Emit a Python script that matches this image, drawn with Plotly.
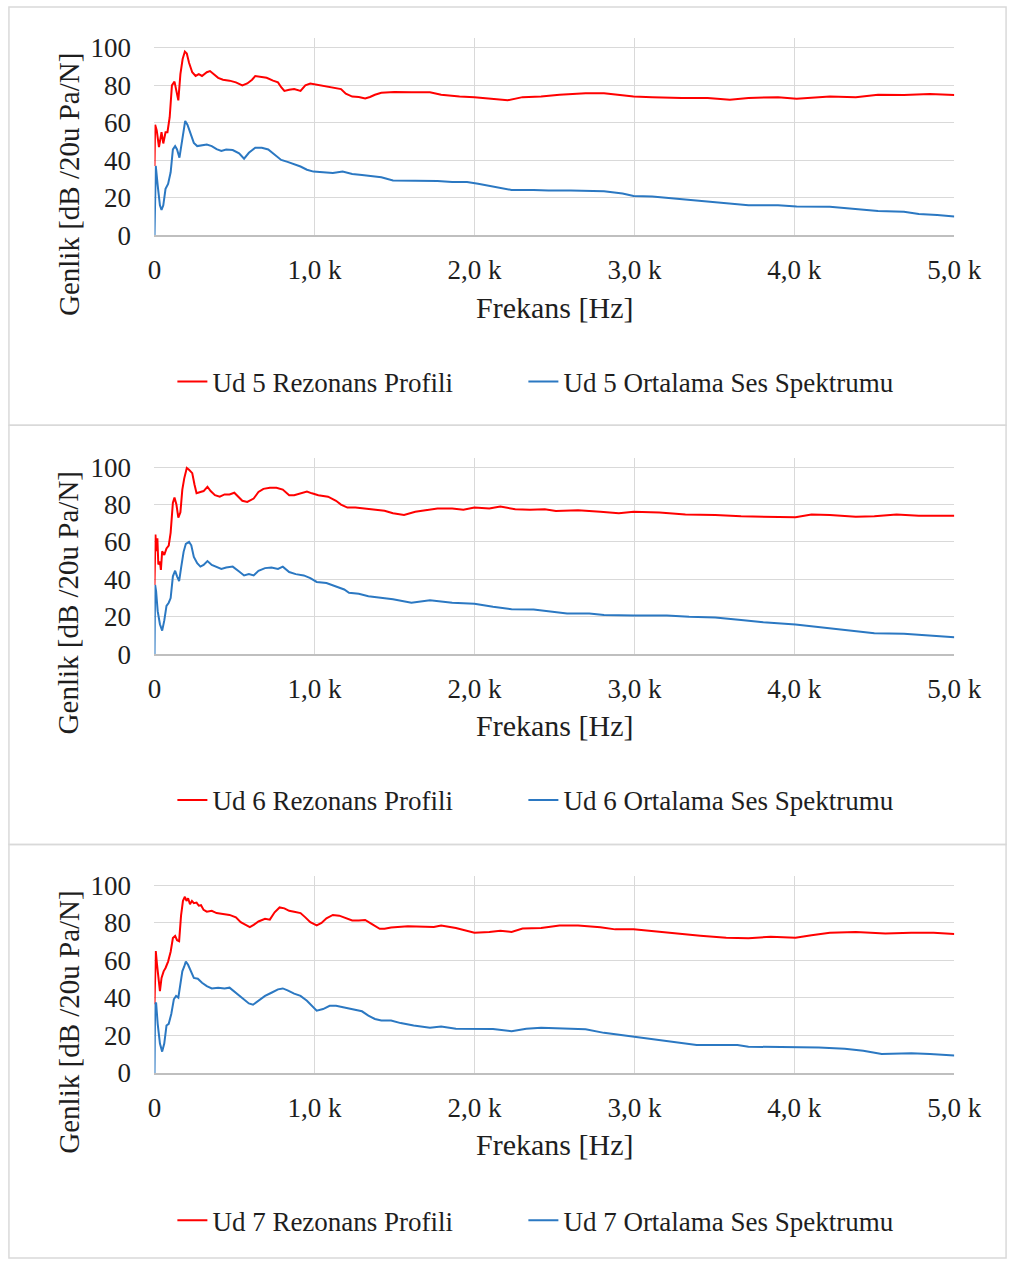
import plotly.graph_objects as go

# ---------------- data ----------------
x_tickvals = [0, 1000, 2000, 3000, 4000, 5000]
x_ticktext = ["0", "1,0 k", "2,0 k", "3,0 k", "4,0 k", "5,0 k"]
y_tickvals = [0, 20, 40, 60, 80, 100]
y_ticktext = ["0", "20", "40", "60", "80", "100"]

units = ["Ud 5", "Ud 6", "Ud 7"]

# Ud 5
ud5_red_f = [0, 4, 14, 28, 44, 55, 69, 81, 95, 109, 125, 137, 149, 162, 176, 190, 202, 216, 236, 257,
             277, 297, 327, 347, 368, 398, 428, 469, 509, 549, 580, 610, 630, 661, 701, 741, 772, 792, 812, 842,
             873, 913, 943, 974, 1014, 1054, 1115, 1166, 1196, 1236, 1277, 1317, 1347, 1378, 1418, 1499,
             1606, 1722, 1792, 1907, 2000, 2093, 2208, 2301, 2417, 2532, 2695, 2810, 2926, 2995, 3111, 3296,
             3458, 3597, 3713, 3898, 4014, 4107, 4222, 4384, 4523, 4685, 4847, 5000]
ud5_red = [37, 59, 56, 47, 55, 49, 55, 55, 63, 80, 82, 76, 72, 86, 94, 98, 97, 92, 87, 85,
           86, 85, 87, 87.6, 86, 84, 83, 82.5, 81.6, 80, 81, 83, 85, 84.6, 84, 82.5, 81.6, 79, 77, 77.6,
           78, 77, 80, 81, 80.4, 80, 79, 78, 75.5, 74, 73.8, 73, 73.8, 75, 76, 76.4,
           76.3, 76.3, 75, 74, 73.7, 72.8, 72, 73.7, 74, 75, 75.8, 75.8, 74.6, 74, 73.7, 73.2,
           73.3, 72.3, 73.3, 73.7, 72.8, 73.3, 74, 73.7, 75, 74.9, 75.4, 74.9]
ud5_blue_f = [0, 4, 8, 20, 34, 44, 55, 69, 85, 101, 115, 129, 141, 156, 166, 180, 192, 206, 226, 246,
              267, 297, 327, 358, 388, 418, 448, 489, 529, 560, 590, 630, 671, 711, 751, 792, 832, 873, 913, 953,
              994, 1054, 1115, 1176, 1236, 1297, 1357, 1418,
              1491, 1630, 1769, 1861, 1954, 2023, 2139, 2232, 2370, 2463, 2602, 2810, 2926, 2995, 3111, 3296,
              3528, 3713, 3898, 4014, 4222, 4384, 4523, 4685, 4778, 4893, 5000]
ud5_blue = [0, 33.6, 37, 26.6, 16, 13.5, 16, 24.8, 27.4, 33.6, 45.8, 47.6, 45.8, 41.4, 47.6, 56, 61, 59, 53.7, 49.3,
            47.6, 47.9, 48.4, 47.6, 46, 45, 45.8, 45.5, 43.7, 40.9, 44, 46.7, 46.7, 45.8, 43.2, 40.2, 39.2, 38, 36.7, 35,
            34, 33.6, 33.2, 34, 32.7, 32.2, 31.5, 31,
            29.3, 29, 29, 28.4, 28.4, 27.5, 25.8, 24.2, 24.2, 23.9, 23.9, 23.5, 22.3, 21, 20.7, 19.3,
            17.5, 16.1, 16.1, 15.4, 15.3, 13.9, 13, 12.6, 11.4, 10.9, 10]

# Ud 6
ud6_red_f = [0, 6, 12, 18, 24, 34, 40, 48, 61, 75, 89, 101, 115, 125, 137, 149, 162, 174, 186, 202,
             216, 236, 250, 263, 287, 307, 331, 351, 378, 408, 438, 469, 499, 529, 549, 580, 620, 650, 681, 721,
             762, 802, 842, 873, 913, 953, 984, 1024, 1085, 1135, 1166, 1206, 1256, 1317, 1378, 1438,
             1491, 1560, 1630, 1769, 1861, 1931, 2000, 2093, 2162, 2255, 2347, 2440, 2509, 2648, 2787, 2903,
             2995, 3157, 3319, 3505, 3667, 3806, 3898, 4007, 4107, 4222, 4384, 4500, 4639, 4778, 5000]
ud6_red = [37, 64, 55, 62, 48, 49.5, 45, 55, 53, 56.5, 58, 65, 81, 83.7, 80, 73, 75.8, 88, 94, 99.5,
           98.6, 96.8, 90.7, 86, 86.7, 87.2, 89.5, 87.2, 85, 84.2, 85.4, 85.4, 86.3, 83.7, 82, 81.4, 83.2, 86.7, 88.4, 89,
           89, 88, 85, 85, 86, 87, 86, 85, 84.2, 82, 80, 78.4, 78.4, 77.9, 77.2, 76.7,
           75.3, 74.4, 76.1, 77.9, 77.9, 77.2, 78.4, 77.9, 78.9, 77.5, 77.2, 77.5, 76.5, 77, 76.1, 75.4,
           76.1, 75.8, 74.7, 74.4, 73.7, 73.5, 73, 73.2, 74.7, 74.4, 73.5, 73.7, 74.7, 74, 74]
ud6_blue_f = [0, 4, 10, 20, 34, 48, 61, 75, 89, 101, 115, 129, 141, 154, 166, 182, 196, 216, 230, 246,
              267, 287, 307, 331, 358, 388, 418, 448, 489, 529, 560, 590, 620, 650, 691, 731, 772, 802, 842, 883,
              933, 974, 1014, 1075, 1135, 1186, 1216, 1277, 1337, 1418,
              1491, 1606, 1722, 1861, 2000, 2116, 2232, 2370, 2463, 2579, 2718, 2810, 2995, 3203, 3342, 3505,
              3667, 3806, 4007, 4153, 4315, 4500, 4685, 4847, 5000]
ud6_blue = [0, 37, 33.7, 23, 16, 12.6, 17.9, 25.8, 27.5, 30, 41.6, 44.6, 41.6, 39, 46, 54.7, 59, 60, 58.2, 52,
            48.6, 46.8, 47.7, 49.8, 47.7, 46.8, 45.6, 46.3, 46.8, 44.2, 42.1, 42.8, 42.1, 44.6, 46, 46.3, 45.6, 46.8, 43.9, 42.8,
            42.1, 40.7, 38.6, 38, 36.3, 34.6, 32.8, 32.3, 31, 30.2,
            29.3, 27.5, 28.8, 27.5, 27, 25.3, 24, 23.9, 22.8, 21.8, 21.8, 21, 20.7, 20.7, 20, 19.6,
            18.2, 17, 15.8, 14.4, 12.6, 11.2, 10.9, 10, 9.1]

# Ud 7
ud7_red_f = [0, 8, 16, 24, 34, 44, 57, 69, 85, 101, 115, 129, 141, 154, 166, 178, 190, 200, 210, 222,
             234, 246, 263, 277, 291, 307, 327, 358, 388, 428, 469, 509, 539, 570, 596, 620, 650, 691, 721, 751,
             782, 812, 842, 873, 913, 943, 974, 1014, 1044, 1075, 1115, 1155, 1196, 1236, 1277, 1317, 1357, 1408, 1438, 1479,
             1584, 1676, 1746, 1792, 1884, 2000, 2093, 2162, 2232, 2301, 2417, 2532, 2648, 2787, 2880, 2995,
             3111, 3250, 3412, 3574, 3713, 3852, 4007, 4107, 4222, 4384, 4569, 4731, 4870, 5000]
ud7_red = [36.7, 65, 57.7, 52.4, 43.7, 50.7, 54.2, 56, 59.4, 64.7, 72, 73.1, 70.8, 70.3, 83.9, 91.8, 94, 91.8, 93.2, 90,
           91.8, 90.6, 90.9, 89.2, 89.5, 87, 86, 86.5, 85.3, 84.8, 84.3, 83, 80.4, 79, 77.8, 79, 80.8, 82.2, 81.8, 85.7,
           88.3, 87.8, 86.5, 86, 85.3, 83, 80.4, 78.7, 80, 82.5, 84.3, 83.9, 82.5, 81.3, 81.3, 81.6, 79.5, 76.9, 76.9, 77.6,
           78.2, 77.9, 77.9, 78.7, 77.3, 74.8, 75.2, 75.9, 75.2, 77, 77.3, 78.7, 78.7, 77.7, 76.6, 76.6,
           75.6, 74.4, 73.2, 72.1, 71.8, 72.7, 72.1, 73.5, 74.8, 75.2, 74.4, 74.8, 74.8, 74.1]
ud7_blue_f = [0, 4, 10, 20, 34, 48, 61, 75, 89, 105, 121, 135, 149, 162, 174, 186, 196, 210, 226, 246,
              271, 297, 327, 358, 398, 438, 469, 509, 549, 590, 616, 650, 691, 731, 772, 802, 832, 873, 913, 953,
              984, 1014, 1054, 1095, 1135, 1176, 1236, 1297, 1337, 1378, 1418, 1479,
              1539, 1620, 1722, 1792, 1884, 2000, 2116, 2232, 2324, 2417, 2556, 2695, 2810, 2926, 2995, 3111,
              3250, 3389, 3505, 3644, 3713, 3898, 4007, 4153, 4315, 4431, 4546, 4731, 4847, 5000]
ud7_blue = [0, 36.7, 37.6, 26.2, 15.7, 11.4, 15.7, 25.3, 26.2, 31.5, 39.3, 41.1, 40.2, 47.2, 54.2, 56.8, 59.4, 57.7, 54.5, 50.7,
            50.3, 48.1, 46.3, 45.1, 45.5, 45.1, 45.5, 42.8, 40.2, 37.1, 36.4, 38.5, 41.1, 42.8, 44.6, 45.1, 44.1, 42.3, 41.1, 38.5,
            35.8, 33.2, 34.1, 35.8, 35.8, 35, 34.1, 32.9, 30.6, 28.8, 28, 28,
            26.6, 25.3, 24.1, 24.8, 23.6, 23.6, 23.4, 22.3, 23.6, 24.1, 23.8, 23.3, 21.4, 20.1, 19.2, 17.8,
            16.1, 14.9, 14.9, 14.9, 14, 14, 14, 13.6, 12.9, 11.9, 10.1, 10.5, 10.1, 9.3]

series = [
    (ud5_red_f, ud5_red, ud5_blue_f, ud5_blue),
    (ud6_red_f, ud6_red, ud6_blue_f, ud6_blue),
    (ud7_red_f, ud7_red, ud7_blue_f, ud7_blue),
]

# ---------------- style / geometry ----------------
W, H = 1035, 1275
FONT = "Liberation Serif, Tinos, 'Times New Roman', 'DejaVu Serif', serif"
TXT = "#1e1e1e"
RED = "#FF0000"
BLUE = "#2B78C2"
GRID = "#D9D9D9"
AXLINE = "#BFBFBF"

PLOT_L, PLOT_R = 152.5, 979.5
Y_ZERO = [234, 659.5, 1085]
Y_TOP = [34, 460, 885]
LEG_Y = [383, 808, 1235]
YTITLE_Y = [182, 607, 1033]
XTITLE_Y = [307, 732, 1158]
PANEL_BOX = [(2, 427), (427, 853), (853, 1273)]


def px_x(v):
    return v / W


def px_y(v):
    return 1 - v / H


fig = go.Figure()
layout = dict(
    width=W, height=H,
    margin=dict(l=0, r=0, t=0, b=0),
    paper_bgcolor="white", plot_bgcolor="white",
    font=dict(family=FONT, size=27, color=TXT),
    showlegend=True,
)
annotations = []
shapes = []

for i, (unit, (fr, r, fb, b)) in enumerate(zip(units, series)):
    sfx = "" if i == 0 else str(i + 1)
    leg = "legend" if i == 0 else f"legend{i + 1}"
    xa, ya = f"x{sfx}", f"y{sfx}"
    fig.add_trace(go.Scatter(x=fr, y=r, mode="lines", name=f"{unit} Rezonans Profili",
                             line=dict(color=RED, width=2), xaxis=xa, yaxis=ya, legend=leg,
                             legendwidth=306))
    fig.add_trace(go.Scatter(x=fb, y=b, mode="lines", name=f"{unit} Ortalama Ses Spektrumu",
                             line=dict(color=BLUE, width=2), xaxis=xa, yaxis=ya, legend=leg,
                             legendwidth=380))
    layout[f"xaxis{sfx}"] = dict(
        domain=[px_x(PLOT_L), px_x(PLOT_R)], anchor=ya, range=[0, 5000],
        tickvals=x_tickvals, ticktext=x_ticktext, showgrid=True, gridcolor=GRID, gridwidth=1.3,
        showline=True, linecolor=AXLINE, linewidth=1.5, zeroline=False,
        ticks="outside", ticklen=10, tickcolor="rgba(0,0,0,0)",
        tickfont=dict(family=FONT, size=27, color=TXT),
    )
    layout[f"yaxis{sfx}"] = dict(
        domain=[px_y(Y_ZERO[i]), px_y(Y_TOP[i])], anchor=xa, range=[0, 105],
        tickvals=y_tickvals, ticktext=y_ticktext, showgrid=True, gridcolor=GRID, gridwidth=1.3,
        showline=False, zeroline=False,
        ticks="outside", ticklen=17, tickcolor="rgba(0,0,0,0)",
        tickfont=dict(family=FONT, size=27, color=TXT),
    )
    layout[leg] = dict(
        orientation="h", x=px_x(171), xanchor="left", y=px_y(LEG_Y[i]), yanchor="middle",
        font=dict(family=FONT, size=27, color=TXT),
        bgcolor="rgba(0,0,0,0)", borderwidth=0, itemwidth=30,
    )
    annotations.append(dict(
        text="Genlik [dB /20u Pa/N]", xref="paper", yref="paper",
        x=px_x(64), y=px_y(YTITLE_Y[i]), xanchor="center", yanchor="middle",
        textangle=-90, showarrow=False, font=dict(family=FONT, size=29, color=TXT)))
    annotations.append(dict(
        text="Frekans [Hz]", xref="paper", yref="paper",
        x=px_x((PLOT_L + PLOT_R) / 2), y=px_y(XTITLE_Y[i]), xanchor="center", yanchor="middle",
        showarrow=False, font=dict(family=FONT, size=30, color=TXT)))
    y0, y1 = PANEL_BOX[i]
    shapes.append(dict(type="rect", xref="paper", yref="paper",
                       x0=px_x(2), x1=px_x(1033), y0=px_y(y1), y1=px_y(y0),
                       line=dict(color=GRID, width=1.5), fillcolor="rgba(0,0,0,0)", layer="below"))

layout["annotations"] = annotations
layout["shapes"] = shapes
fig.update_layout(**layout)
fig.write_html("out.html",
               post_script="document.body.style.margin='0';document.body.style.overflow='hidden';")
